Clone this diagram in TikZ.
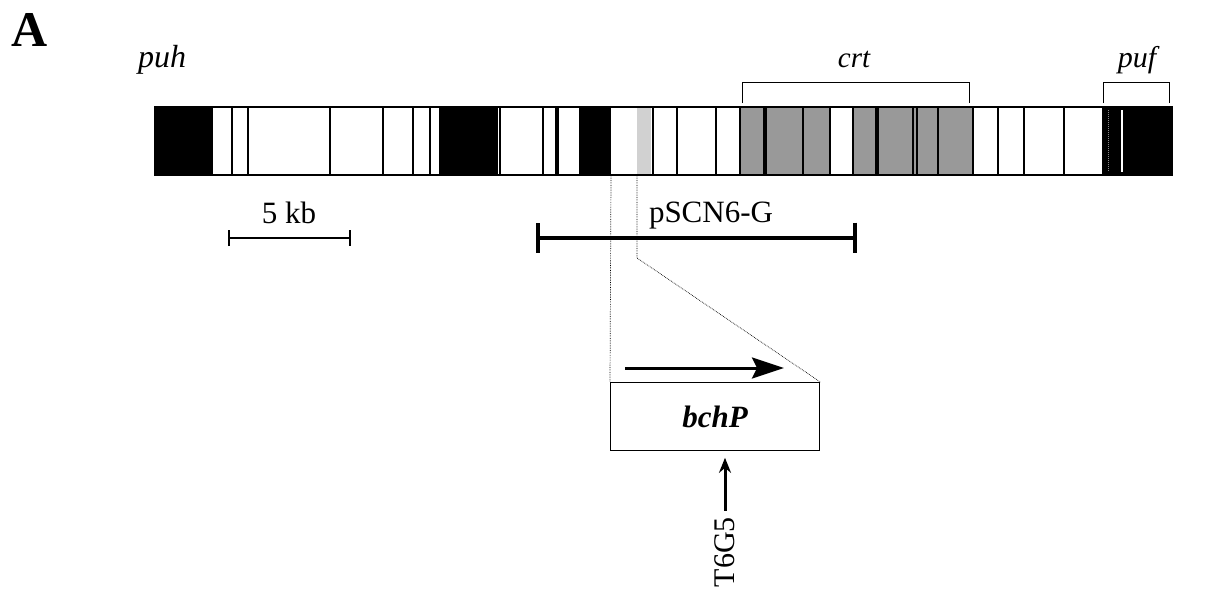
\documentclass[tikz,border=0pt]{standalone}
\usepackage{fontspec}
\setmainfont{Liberation Serif}
\usetikzlibrary{arrows.meta}
\begin{document}
\begin{tikzpicture}[x=1pt,y=-1pt,
  lbl/.style={inner sep=0pt, anchor=base, font=\fontsize{31}{36}\selectfont},
  thinsep/.style={line width=1.6pt},
  thicksep/.style={line width=3.2pt},
  blockblack/.style={fill=black},
  blockgray/.style={fill=black!40},
  blocklight/.style={fill=black!18},
  bracketline/.style={line width=1pt},
  dotline/.style={densely dotted, line width=0.7pt},
  genebox/.style={draw, line width=1.3pt, minimum width=209pt, minimum height=68pt, inner sep=0pt, anchor=north west, font=\fontsize{31}{36}\selectfont\bfseries\itshape},
  scalebar/.style={line width=2.2pt, {Bar[width=16pt]}-{Bar[width=16pt]}},
  clonebar/.style={line width=3.6pt, {Bar[width=30pt]}-{Bar[width=30pt]}}
]
\useasboundingbox (0,0) rectangle (1226,590);

% panel letter and gene cluster labels
\node[lbl, anchor=base west, font=\fontsize{50}{56}\selectfont\bfseries] (panel) at (11,46) {A};
\node[lbl, anchor=base west, font=\fontsize{32}{36}\selectfont\itshape] (puh) at (138,67) {puh};
\node[lbl, font=\fontsize{29}{34}\selectfont\itshape] (crt) at (854,67) {crt};
\node[lbl, font=\fontsize{30}{34}\selectfont\itshape] (puf) at (1137,67) {puf};

% brackets
\draw[bracketline] (742,103) -- (742,82.5) -- (969,82.5) -- (969,103);
\draw[bracketline] (1103,103) -- (1103,82) -- (1169,82) -- (1169,103);

% gene map bar
\fill[blockblack] (155,107) rectangle (213,175);
\fill[blockblack] (439,107) rectangle (498,175);
\fill[blockblack] (579,107) rectangle (611,175);
\fill[blocklight] (637,107) rectangle (651,175);
\fill[blockgray] (741,107) rectangle (830,175);
\fill[blockgray] (853,107) rectangle (972,175);
\fill[blockblack] (1102,107) rectangle (1172,175);
\foreach \x in {232,248,330,383,413,430,500,543,653,677,716,740,803,830,853,913,917,938,973,998,1024,1064}
  \draw[thinsep] (\x,107) -- (\x,175);
\foreach \x in {557,765,877}
  \draw[thicksep] (\x,107) -- (\x,175);
\draw[white, line width=1.6pt] (1122,110) -- (1122,172);
\draw[black!45, line width=1pt, densely dotted] (1108,110) -- (1108,172);
\draw[line width=1.6pt] (155,107) rectangle (1172,175);

% scale bar and clone
\coordinate (s1) at (228,238);
\coordinate (s2) at (351,238);
\draw[scalebar] (s1) -- (s2);
\node[lbl] (kb) at (289,223) {5 kb};
\coordinate (c1) at (536,237.7);
\coordinate (c2) at (857,237.7);
\draw[clonebar] (c1) -- (c2);
\node[lbl] (pscn) at (711,222) {pSCN6-G};

% gene box
\node[genebox] (bchp) at (610,382) {bchP};

% zoom lines
\coordinate (d1) at (611,175);
\coordinate (d2) at (637,175);
\coordinate (d2b) at (637,258);
\draw[dotline] (d1) -- (bchp.north west);
\draw[dotline] (d2) -- (d2b) -- (bchp.north east);

% transcription arrow
\coordinate (ar1) at (625,368);
\coordinate (ar2) at (784,368);
\draw[line width=3pt, -{Stealth[length=32pt,width=21pt,inset=5pt]}] (ar1) -- (ar2);

% insertion site
\node[inner sep=0pt, rotate=90, font=\fontsize{30}{34}\selectfont] (t6g5) at (725,552) {T6G5};
\draw[line width=3pt, -{Stealth[length=15pt,width=12pt]}, shorten <=6pt, shorten >=6.5pt] (t6g5.east) -- (t6g5.east |- bchp.south);
\end{tikzpicture}
\end{document}
